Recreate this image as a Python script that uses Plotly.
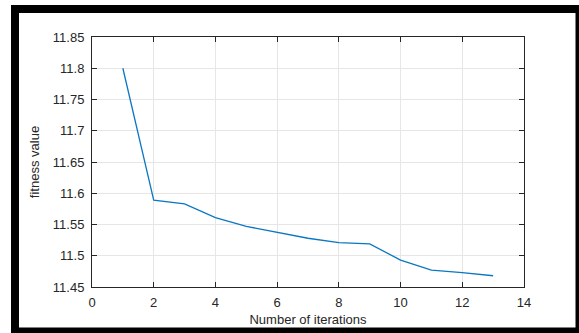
import plotly.graph_objects as go

iterations = [1, 2, 3, 4, 5, 6, 7, 8, 9, 10, 11, 12, 13]
fitness = [11.800, 11.589, 11.583, 11.561, 11.547, 11.537, 11.528, 11.521, 11.519, 11.493, 11.477, 11.473, 11.468]

y_tickvals = [11.45, 11.5, 11.55, 11.6, 11.65, 11.7, 11.75, 11.8, 11.85]
y_ticktext = ["11.45", "11.5", "11.55", "11.6", "11.65", "11.7", "11.75", "11.8", "11.85"]
x_tickvals = [0, 2, 4, 6, 8, 10, 12, 14]

W, H = 579, 333
L, R, T, B = 92, 55, 37, 46
pw, ph = W - L - R, H - T - B

def px_x(p):
    return (p - L) / pw

def px_y(p):
    return (H - B - p) / ph

FONT = "Liberation Sans, Arial"

fig = go.Figure()
fig.add_trace(go.Scatter(x=iterations, y=fitness, mode="lines",
                         line=dict(color="#0b77c2", width=1.3), showlegend=False))

axis_common = dict(showline=True, linecolor="#262626", linewidth=1, mirror="ticks",
                   ticks="inside", ticklen=5, tickcolor="#262626", tickwidth=1,
                   showgrid=True, gridcolor="#e6e6e6", gridwidth=1, zeroline=False,
                   automargin=False,
                   tickfont=dict(family=FONT, size=13, color="#262626"))

fig.update_xaxes(range=[0, 14], tickvals=x_tickvals, ticklabelstandoff=3,
                 title=dict(text="Number of iterations", standoff=6,
                            font=dict(family=FONT, size=13, color="#262626")),
                 **axis_common)
fig.update_yaxes(range=[11.45, 11.85], tickvals=y_tickvals, ticktext=y_ticktext,
                 ticklabelstandoff=4,
                 title=dict(text="fitness value", standoff=10,
                            font=dict(family=FONT, size=13, color="#262626")),
                 **axis_common)

# picture frame: black outer, white inner
fig.add_shape(type="rect", xref="paper", yref="paper",
              x0=px_x(11), x1=px_x(579), y0=px_y(333), y1=px_y(5),
              fillcolor="black", line=dict(width=0), layer="below")
fig.add_shape(type="rect", xref="paper", yref="paper",
              x0=px_x(19), x1=px_x(575.5), y0=px_y(327.5), y1=px_y(13),
              fillcolor="white", line=dict(width=0), layer="below")

fig.update_layout(width=W, height=H, margin=dict(l=L, r=R, t=T, b=B, autoexpand=False),
                  paper_bgcolor="white", plot_bgcolor="rgba(0,0,0,0)")

fig.write_html("out.html", config={"displayModeBar": False},
               post_script="document.body.style.margin='0';document.body.style.overflow='hidden';")
